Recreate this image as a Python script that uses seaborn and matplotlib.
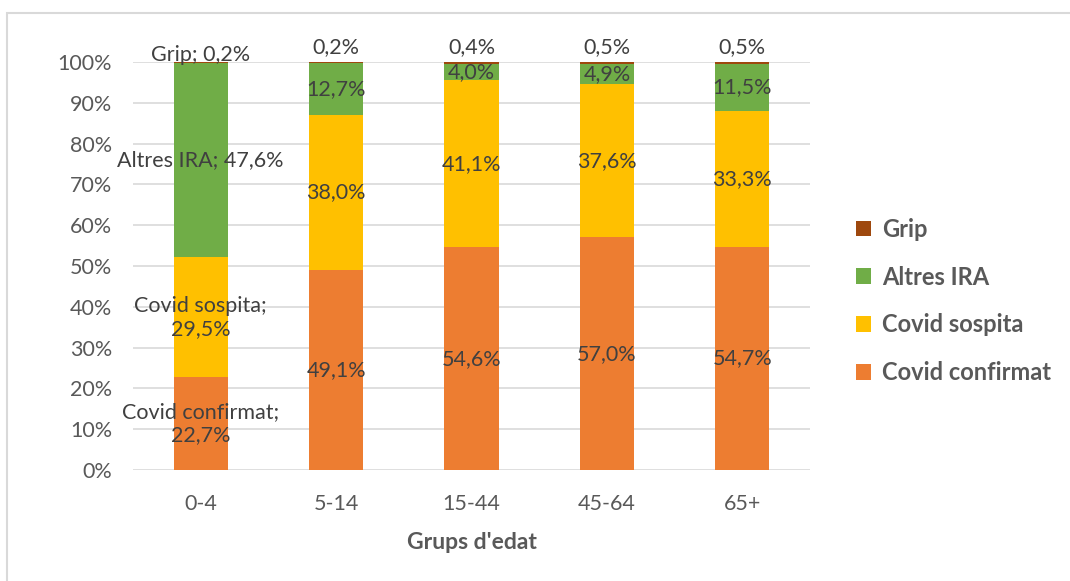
import numpy as np
import pandas as pd
import matplotlib
matplotlib.use("Agg")
import matplotlib.pyplot as plt
from matplotlib.patches import Rectangle, Patch
import seaborn as sns

# Age groups and the share (%) of each diagnosis within every group
grups = ["0-4", "5-14", "15-44", "45-64", "65+"]
covid_confirmat = [22.7, 49.1, 54.6, 57.0, 54.7]
covid_sospita = [29.5, 38.0, 41.1, 37.6, 33.3]
altres_ira = [47.6, 12.7, 4.0, 4.9, 11.5]
grip = [0.2, 0.2, 0.4, 0.5, 0.5]

series_names = ["Covid confirmat", "Covid sospita", "Altres IRA", "Grip"]
series_vals = [covid_confirmat, covid_sospita, altres_ira, grip]
colors = ["#ED7D31", "#FFC000", "#70AD47", "#9E480E"]

sns.set_theme(style="white")
plt.rcParams["font.family"] = ["Lato", "DejaVu Sans"]

vals = np.array(series_vals, dtype=float)
shares = vals / vals.sum(axis=0) * 100.0  # 100 % stacked
cum = np.cumsum(shares, axis=0)

fig = plt.figure(figsize=(10.70, 5.81), dpi=100)
ax = fig.add_axes([133 / 1070, 1 - 470 / 581, (810 - 133) / 1070, (470 - 62) / 581])

# Draw stacked segments from the top layer down so each lower one overlays
for i in range(len(series_names) - 1, -1, -1):
    df = pd.DataFrame({"grup": grups, "valor": cum[i]})
    sns.barplot(data=df, x="grup", y="valor", color=colors[i], width=0.4,
                saturation=1, ax=ax, zorder=3, edgecolor="none")

ax.set_ylim(0, 100)
ax.set_xlim(-0.5, len(grups) - 0.5)
ax.set_yticks(np.arange(0, 101, 10))
ax.set_yticklabels([f"{v}%" for v in range(0, 101, 10)])
ax.yaxis.grid(True, color="#D9D9D9", linewidth=1.2, zorder=0)
ax.set_axisbelow(True)
for s in ax.spines.values():
    s.set_visible(False)
ax.tick_params(axis="both", length=0, labelsize=15.5, colors="#595959")
ax.tick_params(axis="y", pad=15)
ax.tick_params(axis="x", pad=17)
ax.set_ylabel("")
ax.set_xlabel("Grups d'edat", fontsize=16.5, fontweight="bold", color="#595959", labelpad=13)

def fmt(v):
    return f"{v:.1f}%".replace(".", ",")

lab_kw = dict(ha="center", fontsize=15.5, color="#404040", zorder=5)
for j, g in enumerate(grups):
    bottoms = np.concatenate([[0], cum[:-1, j]])
    for i, name in enumerate(series_names):
        v = series_vals[i][j]
        if name == "Grip":
            if j == 0:
                ax.text(j, 101.7, f"{name}; {fmt(v)}", va="center", **lab_kw)
            else:
                ax.text(j, 103.7, fmt(v), va="center", **lab_kw)
            continue
        y = bottoms[i] + shares[i, j] / 2
        if j == 0:
            if name == "Altres IRA":
                txt = f"{name}; {fmt(v)}"
            else:
                txt = f"{name};\n{fmt(v)}"
        else:
            txt = fmt(v)
        ax.text(j, y, txt, va="center", linespacing=1.2, **lab_kw)

# Legend on the right, top-to-bottom matching the stacking order
handles = [Patch(facecolor=colors[i], edgecolor="none") for i in range(3, -1, -1)]
labels = [series_names[i] for i in range(3, -1, -1)]
leg = fig.legend(handles, labels, loc="center left", bbox_to_anchor=(844 / 1070, 1 - 301 / 581),
                 frameon=False, handlelength=0.65, handleheight=0.65, handletextpad=0.45,
                 labelspacing=1.05, borderpad=0, prop={"weight": "bold", "size": 17})
for t in leg.get_texts():
    t.set_color("#595959")

# Light frame round the chart area
fig.patches.append(Rectangle((7, -20), 1100, 581 + 20 - 13, transform=None, fill=False,
                             edgecolor="#D9D9D9", linewidth=1.5))

fig.savefig("out.png", dpi=100)
